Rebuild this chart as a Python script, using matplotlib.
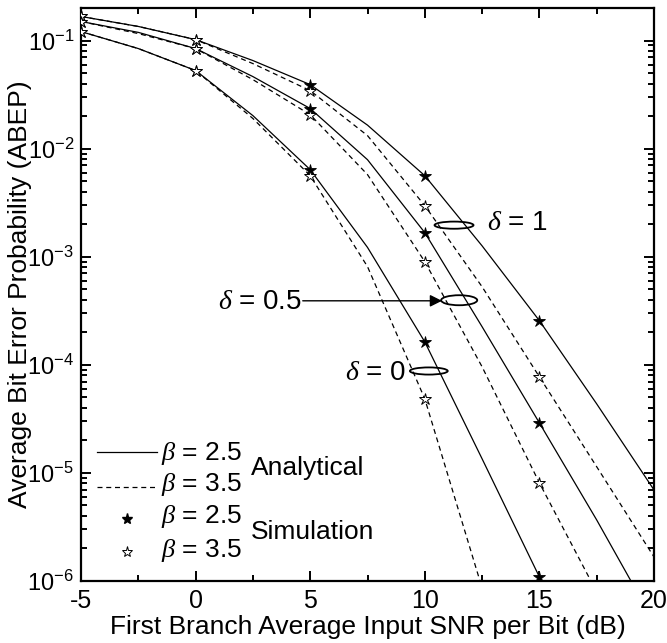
import numpy as np
import matplotlib
matplotlib.use('Agg')
import matplotlib.pyplot as plt
from matplotlib.patches import Ellipse
from matplotlib.lines import Line2D
from matplotlib.ticker import FixedLocator, LogLocator, NullFormatter

plt.rcParams.update({
    'font.family': 'Liberation Sans',
    'mathtext.fontset': 'custom',
    'mathtext.rm': 'Liberation Sans',
    'mathtext.it': 'Liberation Serif:italic',
    'mathtext.default': 'regular',
    'axes.unicode_minus': False,
})

nan = np.nan
snr = [-5, -2.5, 0, 2.5, 5, 7.5, 10, 12.5, 15, 17.5, 20]
abep_d1_b25 = [0.167, 0.135, 0.102, 0.0653, 0.0391, 0.0165, 0.00562, 0.00126, 2.56e-4, 4.35e-5, 6.96e-6]
abep_d1_b35 = [0.167, 0.135, 0.102, 0.0612, 0.0344, 0.0132, 0.00297, 5.27e-4, 7.74e-5, 1.14e-5, 1.67e-6]
abep_d05_b25 = [0.150, 0.119, 0.0843, 0.0464, 0.0235, 0.00790, 0.00167, 2.25e-4, 2.90e-5, 3.67e-6, 4.17e-7]
abep_d05_b35 = [0.150, 0.116, 0.0843, 0.0435, 0.0206, 0.00575, 9.0e-4, 9.58e-5, 8.08e-6, 7.91e-7, nan]
abep_d0_b25 = [0.121, 0.0843, 0.0528, 0.0202, 0.00639, 0.00122, 1.63e-4, 1.35e-5, 1.09e-6, 6.81e-8, nan]
abep_d0_b35 = [0.121, 0.0843, 0.0528, 0.0190, 0.00562, 8.10e-4, 4.84e-5, 8.61e-7, nan, nan, nan]

sim_snr = [-5, 0, 5, 10, 15]
sim_d1_b25 = [0.167, 0.102, 0.0391, 0.00562, 2.56e-4]
sim_d1_b35 = [0.167, 0.102, 0.0344, 0.00297, 7.74e-5]
sim_d05_b25 = [0.150, 0.0843, 0.0235, 0.00167, 2.90e-5]
sim_d05_b35 = [0.150, 0.0843, 0.0206, 9.0e-4, 8.08e-6]
sim_d0_b25 = [0.121, 0.0528, 0.00639, 1.63e-4, 1.09e-6]
sim_d0_b35 = [0.121, 0.0528, 0.00562, 4.84e-5, nan]

xticks = [-5, 0, 5, 10, 15, 20]
ytick_vals = [1e-6, 1e-5, 1e-4, 1e-3, 1e-2, 1e-1]
ytick_labels = ['$10^{-6}$', '$10^{-5}$', '$10^{-4}$', '$10^{-3}$', '$10^{-2}$', '$10^{-1}$']

fig = plt.figure(figsize=(6.67, 6.43), dpi=100)
ax = fig.add_axes([81/667, 62/643, 573/667, 573/643])
ax.set_yscale('log')
ax.set_xlim(-5, 20)
ax.set_ylim(1e-6, 0.2)

dash = (0, (4, 3))
lw = 0.9
for s in [abep_d1_b25, abep_d05_b25, abep_d0_b25]:
    ax.plot(snr, s, color='black', lw=lw, ls='-', zorder=2)
for s in [abep_d1_b35, abep_d05_b35, abep_d0_b35]:
    ax.plot(snr, s, color='black', lw=lw, ls=dash, zorder=2)
for s in [sim_d1_b25, sim_d05_b25, sim_d0_b25]:
    ax.plot(sim_snr, s, ls='none', marker='*', ms=9, mfc='black', mec='black', mew=0.6, zorder=3)
for s in [sim_d1_b35, sim_d05_b35, sim_d0_b35]:
    ax.plot(sim_snr, s, ls='none', marker='*', ms=9, mfc='white', mec='black', mew=0.7, zorder=4)

ax.xaxis.set_major_locator(FixedLocator(xticks))
ax.xaxis.set_minor_locator(FixedLocator([-2.5, 2.5, 7.5, 12.5, 17.5]))
ax.set_xticklabels([str(v) for v in xticks])
ax.yaxis.set_major_locator(FixedLocator(ytick_vals))
ax.set_yticklabels(ytick_labels)
ax.yaxis.set_minor_locator(LogLocator(base=10, subs=np.arange(2, 10)))
ax.yaxis.set_minor_formatter(NullFormatter())
ax.tick_params(which='both', direction='in', top=True, right=True, width=1.4, labelsize=18, pad=6)
ax.tick_params(axis='y', labelsize=17, pad=5)
ax.tick_params(which='major', length=7)
ax.tick_params(which='minor', length=4)
for sp in ax.spines.values():
    sp.set_linewidth(1.6)

ax.set_xlabel('First Branch Average Input SNR per Bit (dB)', fontsize=19, labelpad=1)
ax.set_ylabel('Average Bit Error Probability (ABEP)', fontsize=19)
ax.yaxis.set_label_coords(-0.086, 0.5)

# annotations (axes fraction)
T = ax.transAxes
for (cx, cy, w, h) in [(0.651, 0.621, 0.068, 0.0125), (0.660, 0.490, 0.063, 0.0175), (0.607, 0.3665, 0.066, 0.0125)]:
    ax.add_patch(Ellipse((cx, cy), w, h, transform=T, fill=False, ec='black', lw=1.3, zorder=5))
ax.text(0.708, 0.625, r'$\mathit{\delta}$ = 1', transform=T, fontsize=20, va='center', ha='left')
ax.text(0.239, 0.487, r'$\mathit{\delta}$ = 0.5', transform=T, fontsize=20, va='center', ha='left')
ax.text(0.567, 0.363, r'$\mathit{\delta}$ = 0', transform=T, fontsize=20, va='center', ha='right')
ax.annotate('', xy=(0.630, 0.489), xytext=(0.387, 0.489), xycoords=T, textcoords=T,
            arrowprops=dict(arrowstyle='-|>', color='black', lw=1.0, mutation_scale=18, shrinkA=0, shrinkB=0))

# legend drawn manually
ax.add_line(Line2D([0.028, 0.133], [0.225, 0.225], transform=T, color='black', lw=lw))
ax.add_line(Line2D([0.028, 0.133], [0.164, 0.164], transform=T, color='black', lw=lw, ls=dash))
ax.add_line(Line2D([0.080], [0.108], transform=T, ls='none', marker='*', ms=8, mfc='black', mec='black'))
ax.add_line(Line2D([0.080], [0.051], transform=T, ls='none', marker='*', ms=8, mfc='white', mec='black', mew=0.7))
for fy, t in [(0.223, '2.5'), (0.168, '3.5'), (0.112, '2.5'), (0.054, '3.5')]:
    ax.text(0.140, fy, r'$\mathit{\beta}$ = ' + t, transform=T, fontsize=19, va='center', ha='left')
ax.text(0.297, 0.197, 'Analytical', transform=T, fontsize=19, va='center', ha='left')
ax.text(0.297, 0.0855, 'Simulation', transform=T, fontsize=19, va='center', ha='left')

fig.savefig('out.png', dpi=100)
